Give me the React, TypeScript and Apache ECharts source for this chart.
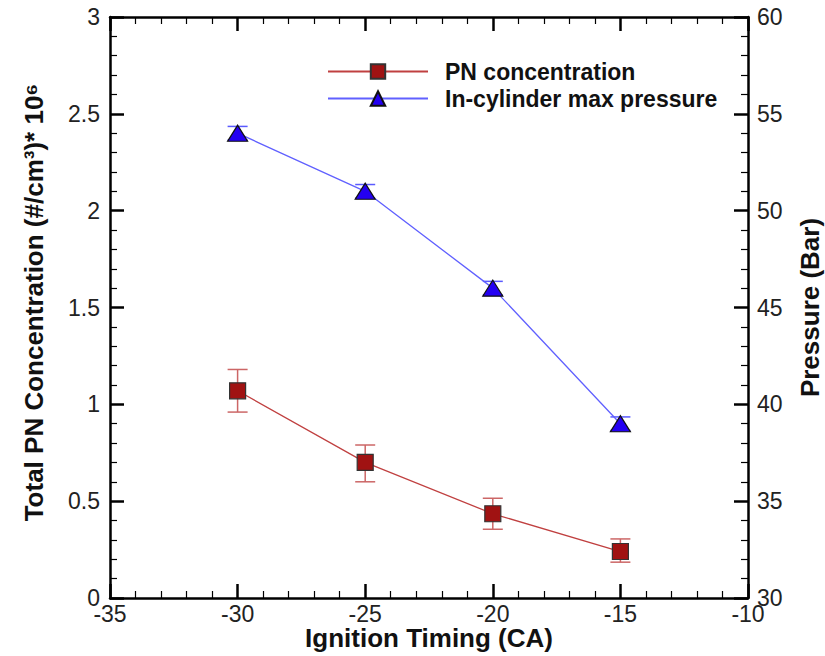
import React, { useEffect, useRef } from "react";
import * as echarts from "echarts";

const timing = [-30, -25, -20, -15];
const pnValues = [1.07, 0.7, 0.435, 0.24];
const pnLow = [0.96, 0.6, 0.355, 0.185];
const pnHigh = [1.18, 0.79, 0.515, 0.305];
const pressureValues = [54.0, 51.0, 46.0, 39.0];
const pressureLow = [53.65, 50.65, 45.65, 38.65];
const pressureHigh = [54.35, 51.35, 46.35, 39.35];

const FONT = "'Liberation Sans', Arial, Helvetica, sans-serif";

function errorBars(color: string) {
  return (params: any, api: any) => {
    const x = api.value(0);
    const lo = api.coord([x, api.value(1)]);
    const hi = api.coord([x, api.value(2)]);
    const hw = 10;
    const style = { stroke: color, lineWidth: 1.5 };
    return {
      type: "group",
      children: [
        { type: "line", shape: { x1: lo[0], y1: lo[1], x2: hi[0], y2: hi[1] }, style },
        { type: "line", shape: { x1: lo[0] - hw, y1: lo[1], x2: lo[0] + hw, y2: lo[1] }, style },
        { type: "line", shape: { x1: hi[0] - hw, y1: hi[1], x2: hi[0] + hw, y2: hi[1] }, style },
      ],
    };
  };
}

const line = () => ({ show: true, onZero: false, lineStyle: { color: "#000000", width: 2.5 } });
const tick = () => ({ show: true, inside: true, length: 14, lineStyle: { color: "#000000", width: 2.5 } });
const minor = () => ({ show: true, splitNumber: 5, length: 7, lineStyle: { color: "#000000", width: 1.2 } });

export default function App() {
  const ref = useRef<HTMLDivElement>(null);
  useEffect(() => {
    if (!ref.current) return;
    const chart = echarts.init(ref.current, undefined, { renderer: "svg" });
    const labelStyle = { fontFamily: FONT, fontSize: 23, color: "#222222" };
    const nameStyle = (size: number, extra: any = {}) => ({
      fontFamily: FONT, fontSize: size, fontWeight: "bold", color: "#111111", ...extra,
    });
    chart.setOption({
      animation: false,
      backgroundColor: "#ffffff",
      grid: { left: 110, right: 77, top: 17, bottom: 58, outerBoundsMode: "none", containLabel: false },
      legend: {
        data: ["PN concentration", "In-cylinder max pressure"],
        orient: "vertical",
        left: 322,
        top: 55,
        itemWidth: 100,
        itemHeight: 18,
        itemGap: 4,
        textStyle: { fontFamily: FONT, fontSize: 23, fontWeight: "bold", color: "#111111", padding: [0, 0, 0, 12] },
      },
      xAxis: [
        {
          type: "value", min: -35, max: -10, interval: 5, position: "bottom",
          name: "Ignition Timing (CA)", nameLocation: "middle", nameGap: 27, nameMoveOverlap: false,
          nameTextStyle: nameStyle(26),
          axisLabel: { ...labelStyle, margin: 4 },
          axisLine: line(), axisTick: tick(), minorTick: minor(), splitLine: { show: false },
        },
        {
          type: "value", min: -35, max: -10, interval: 5, position: "top",
          axisLabel: { show: false },
          axisLine: line(), axisTick: tick(), minorTick: minor(), splitLine: { show: false },
        },
      ],
      yAxis: [
        {
          type: "value", min: 0, max: 3, interval: 0.5, position: "left",
          name: "Total PN Concentration (#/cm³)* 10⁶", nameLocation: "middle", nameRotate: 90, nameGap: 63,
          nameTextStyle: nameStyle(26, { padding: [0, 0, 0, 10] }),
          axisLabel: { ...labelStyle, margin: 10 },
          axisLine: line(), axisTick: tick(), minorTick: minor(), splitLine: { show: false },
        },
        {
          type: "value", min: 30, max: 60, interval: 5, position: "right",
          name: "Pressure (Bar)", nameLocation: "middle", nameRotate: 90, nameGap: 49,
          nameTextStyle: nameStyle(26),
          axisLabel: { ...labelStyle, margin: 9 },
          axisLine: line(), axisTick: tick(), minorTick: minor(), splitLine: { show: false },
        },
      ],
      series: [
        {
          type: "custom", name: "PN error", xAxisIndex: 0, yAxisIndex: 0,
          renderItem: errorBars("#cc6666"), encode: { x: 0, y: [1, 2] },
          data: timing.map((t, i) => [t, pnLow[i], pnHigh[i]]), z: 1, silent: true,
        },
        {
          type: "custom", name: "Pressure error", xAxisIndex: 0, yAxisIndex: 1,
          renderItem: errorBars("#5a5aff"), encode: { x: 0, y: [1, 2] },
          data: timing.map((t, i) => [t, pressureLow[i], pressureHigh[i]]), z: 1, silent: true,
        },
        {
          type: "line", name: "PN concentration", xAxisIndex: 0, yAxisIndex: 0,
          data: timing.map((t, i) => [t, pnValues[i]]),
          symbol: "rect", symbolSize: 16,
          itemStyle: { color: "#a01212", borderColor: "#333333", borderWidth: 1.2 },
          lineStyle: { color: "#c04040", width: 1.3 },
        },
        {
          type: "line", name: "In-cylinder max pressure", xAxisIndex: 0, yAxisIndex: 1,
          data: timing.map((t, i) => [t, pressureValues[i]]),
          symbol: "triangle", symbolSize: [20, 16],
          itemStyle: { color: "#2400f2", borderColor: "#111111", borderWidth: 1.2 },
          lineStyle: { color: "#6060ff", width: 1.3 },
        },
      ],
    });
    return () => chart.dispose();
  }, []);
  return <div ref={ref} style={{ width: 825, height: 656, position: "absolute", left: 0, top: 0 }} />;
}
